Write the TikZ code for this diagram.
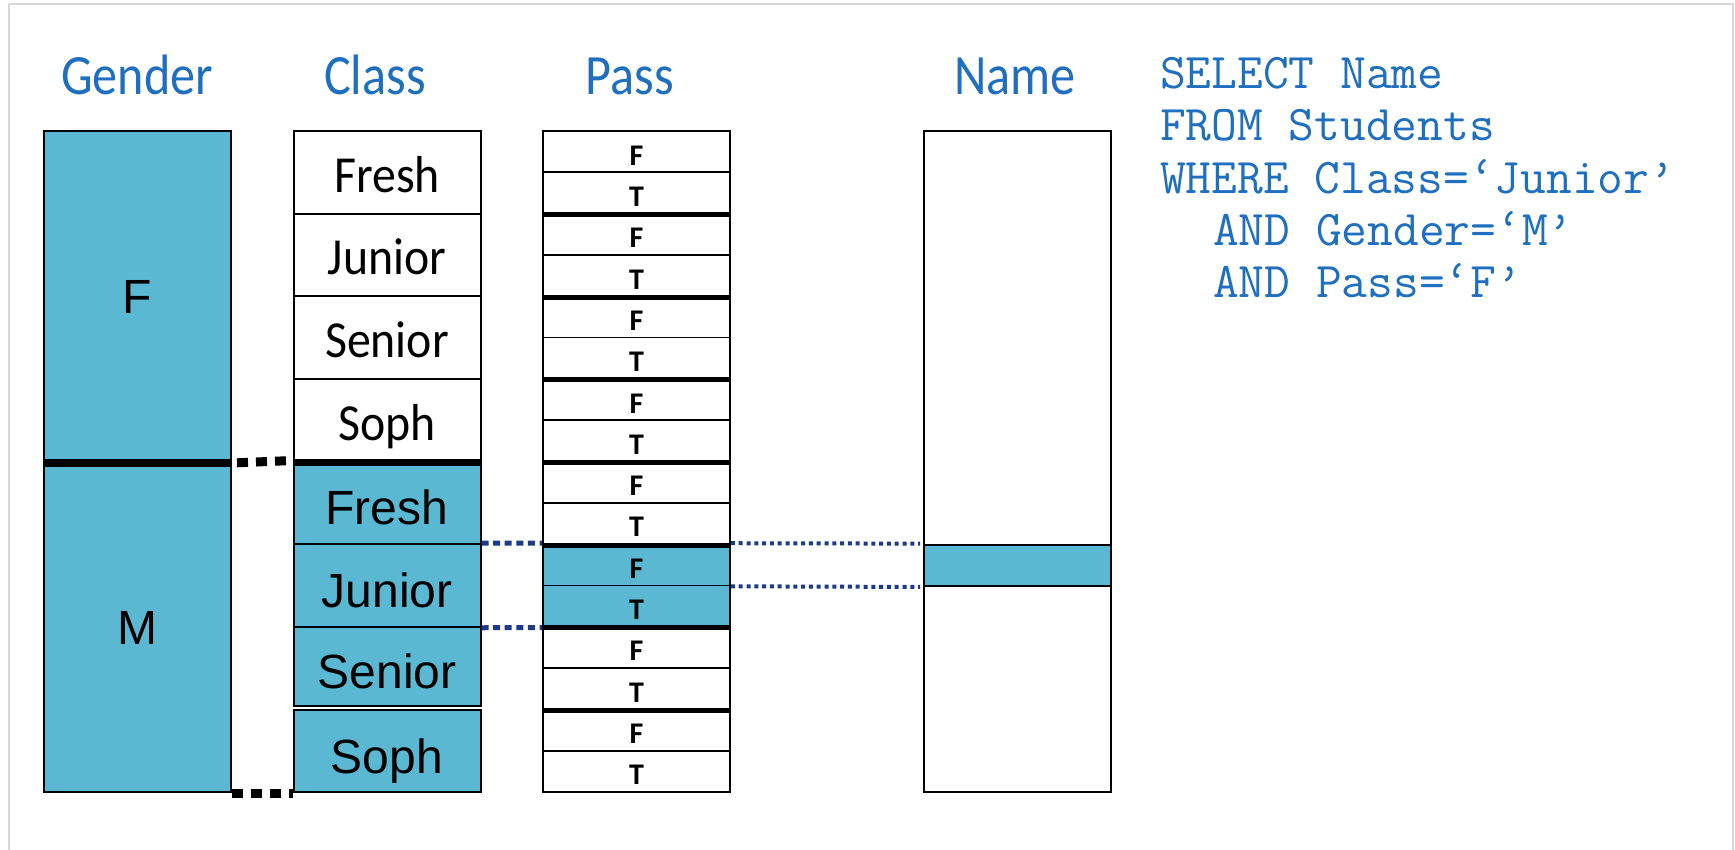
\documentclass[tikz,border=0pt]{standalone}
\usepackage{fontspec}
\newfontfamily\hdrfont[FakeStretch=0.88]{Carlito}
\newfontfamily\calfont[FakeStretch=0.92]{Carlito}
\newfontfamily\calbold{Carlito Bold}
\newfontfamily\arialfont{Liberation Sans}
\definecolor{hdrblue}{HTML}{1F6FC0}
\definecolor{cellfill}{HTML}{5BB8D2}
\definecolor{navy}{HTML}{1C3A88}
\definecolor{framegray}{HTML}{D8D8D8}
\begin{document}
\begin{tikzpicture}[x=1pt,y=-1pt,
  colbox/.style={draw=black,line width=2pt,inner sep=0pt,minimum width=187pt},
  passcell/.style={draw=black,line width=1.8pt,inner sep=0pt,minimum width=187pt,minimum height=41.3125pt},
  hdr/.style={font=\hdrfont\fontsize{57}{60}\selectfont,text=hdrblue,inner sep=0pt,anchor=base},
  uplab/.style={font=\calfont\fontsize{52}{56}\selectfont,inner sep=0pt,anchor=base},
  lowlab/.style={font=\arialfont\fontsize{48}{52}\selectfont,inner sep=0pt,anchor=base},
  passlab/.style={font=\calbold\fontsize{30}{32}\selectfont,inner sep=0pt,anchor=base},
  sqltext/.style={font=\ttfamily\fontsize{50}{52}\selectfont,text=hdrblue,inner sep=0pt,anchor=base west},
  blackdots/.style={draw=black,line width=9pt,dash pattern=on 11pt off 8pt},
  navydots/.style={draw=navy,line width=5pt,dash pattern=on 7pt off 4.6pt},
  navyfine/.style={draw=navy,line width=4pt,dash pattern=on 4pt off 3.8pt},
  thickrule/.style={draw=black,line width=#1}
]
\useasboundingbox (0,0) rectangle (1735,850);
% faint frame
\draw[framegray,line width=1.5pt] (9,850) -- (9,4) -- (1733,4) -- (1733,850);

% headers
\node[hdr] (hG) at (137,95) {Gender};
\node[hdr] (hC) at (375,95) {Class};
\node[hdr] (hP) at (630,95) {Pass};
\node[hdr] (hN) at (1015,95) {Name};

% Gender column
\node[colbox,fill=cellfill,minimum height=331pt] (gF) at (137.5,296.5) {};
\node[colbox,fill=cellfill,minimum height=330pt] (gM) at (137.5,627) {};
\node[lowlab] (gFl) at ([yshift=-17pt]gF.center) {F};
\node[lowlab] (gMl) at ([yshift=-17pt]gM.center) {M};
\draw[thickrule=8pt] (gF.south west) -- (gF.south east);

% Class column
\node[colbox,fill=white,minimum height=82.625pt] (cl0) at (387,172.31) {};
\node[colbox,fill=white,minimum height=82.625pt] (cl1) at (387,254.94) {};
\node[colbox,fill=white,minimum height=82.625pt] (cl2) at (387,337.56) {};
\node[colbox,fill=white,minimum height=82.625pt] (cl3) at (387,420.19) {};
\node[colbox,fill=cellfill,minimum height=82.625pt] (cl4) at (387,502.81) {};
\node[colbox,fill=cellfill,minimum height=82.625pt] (cl5) at (387,585.44) {};
\node[colbox,fill=cellfill,minimum height=79.6pt] (cl6) at (387,666.55) {};
\node[colbox,fill=cellfill,minimum height=81.6pt] (cl7) at (387,751.2) {};
\node[uplab] (cl0l) at ([yshift=-20pt]cl0.center) {Fresh};
\node[uplab] (cl1l) at ([yshift=-20pt]cl1.center) {Junior};
\node[uplab] (cl2l) at ([yshift=-20pt]cl2.center) {Senior};
\node[uplab] (cl3l) at ([yshift=-20pt]cl3.center) {Soph};
\node[lowlab] (cl4l) at ([yshift=-22pt]cl4.center) {Fresh};
\node[lowlab] (cl5l) at ([yshift=-22pt]cl5.center) {Junior};
\node[lowlab] (cl6l) at ([yshift=-22pt]cl6.center) {Senior};
\node[lowlab] (cl7l) at ([yshift=-22pt]cl7.center) {Soph};
\draw[thickrule=7pt] (cl3.south west) -- (cl3.south east);

% Pass column
\foreach \i in {0,...,15}{
  \pgfmathsetmacro\yc{131+(\i+0.5)*41.3125}
  \ifnum\i=10 \def\fc{cellfill}\else\ifnum\i=11 \def\fc{cellfill}\else\def\fc{white}\fi\fi
  \node[passcell,fill=\fc] (p\i) at (636.5,\yc) {};
}
\foreach \i in {0,...,15}{
  \ifodd\i \def\lt{T}\else\def\lt{F}\fi
  \node[passlab] (pl\i) at ([yshift=-13.5pt]p\i.center) {\lt};
}
\foreach \k in {1,...,7}{
  \pgfmathtruncatemacro\j{2*\k-1}
  \draw[thickrule=5pt] (p\j.south west) -- (p\j.south east);
}

% Name column
\node[colbox,fill=white,minimum height=661pt] (nm) at (1017.5,461.5) {};
\node[colbox,fill=cellfill,minimum height=41.3125pt] (nh) at (1017.5,565.28) {};

% SQL text
\node[sqltext] (sql1) at (1160,88.5) {SELECT Name};
\node[sqltext] (sql2) at (1160,141) {FROM Students};
\node[sqltext] (sql3) at (1160,193.3) {WHERE Class=‘Junior’};
\node[sqltext] (sql4) at (1213,245.6) {AND Gender=‘M’};
\node[sqltext] (sql5) at (1213,298) {AND Pass=‘F’};

% connectors
\draw[blackdots,shorten <=5pt] (gF.south east) -- (cl4.north west);
\draw[blackdots] (gM.south east) -- (cl7.south west);
\draw[navydots] (cl5.north east) -- (p10.north west);
\draw[navydots] (cl5.south east) -- (p11.south west);
\draw[navyfine,shorten >=3pt] (p10.north east) -- (nh.north west);
\draw[navyfine,shorten >=3pt] (p10.south east) -- (nh.south west);
\end{tikzpicture}
\end{document}
